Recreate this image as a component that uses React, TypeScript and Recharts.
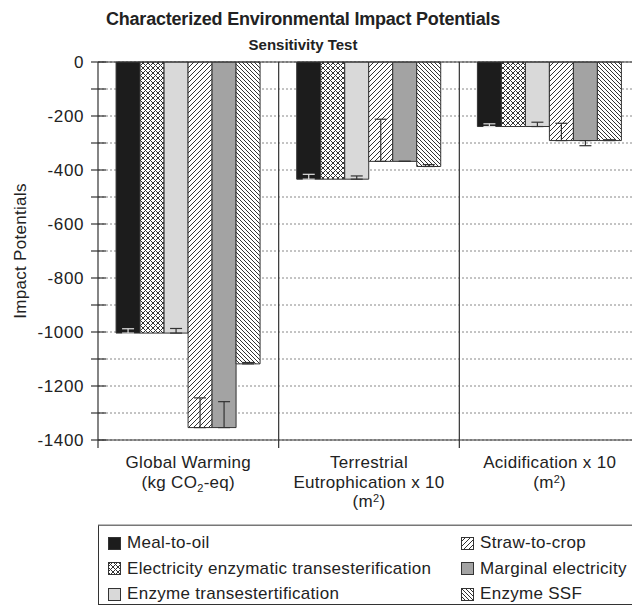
import React from 'react';
import {
  BarChart,
  Bar,
  XAxis,
  YAxis,
  CartesianGrid,
  ReferenceLine,
  ErrorBar,
  Legend,
} from 'recharts';

// ---------- data ----------
const categories = ['Global Warming', 'Terrestrial Eutrophication x 10', 'Acidification x 10'];

type Seg = { t: string; sub?: boolean; sup?: boolean };
const categoryLabelLines: Seg[][][] = [
  [[{ t: 'Global Warming' }], [{ t: '(kg CO' }, { t: '2', sub: true }, { t: '-eq)' }]],
  [[{ t: 'Terrestrial' }], [{ t: 'Eutrophication x 10' }], [{ t: '(m' }, { t: '2', sup: true }, { t: ')' }]],
  [[{ t: 'Acidification x 10' }], [{ t: '(m' }, { t: '2', sup: true }, { t: ')' }]],
];

const seriesNames = [
  'Meal-to-oil',
  'Electricity enzymatic transesterification',
  'Enzyme transestertification',
  'Straw-to-crop',
  'Marginal electricity',
  'Enzyme SSF',
];

const mealToOil = [-1004, -434, -239];
const mealToOilErr = [[0, 16], [0, 18], [0, 10]];
const electricityEnz = [-1004, -434, -239];
const enzymeTrans = [-1004, -434, -239];
const enzymeTransErr = [[0, 17], [0, 12], [0, 16]];
const strawToCrop = [-1354, -368, -291];
const strawToCropErr = [[0, 110], [0, 156], [0, 64]];
const marginalElec = [-1354, -368, -291];
const marginalElecErr = [[0, 96], [0, 0], [19, 0]];
const enzymeSSF = [-1118, -387, -291];
const enzymeSSFErr = [[0, 5], [0, 7], [0, 3]];

const yTicks = [0, -100, -200, -300, -400, -500, -600, -700, -800, -900, -1000, -1100, -1200, -1300, -1400];
const yLabelStep = 200;

const data = categories.map((c, i) => ({
  category: c,
  meal: mealToOil[i],
  mealErr: mealToOilErr[i],
  elec: electricityEnz[i],
  enzT: enzymeTrans[i],
  enzTErr: enzymeTransErr[i],
  straw: strawToCrop[i],
  strawErr: strawToCropErr[i],
  marg: marginalElec[i],
  margErr: marginalElecErr[i],
  ssf: enzymeSSF[i],
  ssfErr: enzymeSSFErr[i],
}));

const series = [
  { key: 'meal', err: 'mealErr', fill: '#1c1c1c', errStroke: '#e0e0e0' },
  { key: 'elec', err: null, fill: 'url(#pat-cross)', errStroke: '#333' },
  { key: 'enzT', err: 'enzTErr', fill: '#d9d9d9', errStroke: '#333' },
  { key: 'straw', err: 'strawErr', fill: 'url(#pat-fwd)', errStroke: '#333' },
  { key: 'marg', err: 'margErr', fill: '#a3a3a3', errStroke: '#333' },
  { key: 'ssf', err: 'ssfErr', fill: 'url(#pat-back)', errStroke: '#333' },
];

const FONT = '"Liberation Sans", Arial, Helvetica, sans-serif';
const TXT = '#222';

const YTick = (props: any) => {
  const { x, y, payload } = props;
  const v = payload.value;
  return (
    <g>
      <line x1={x - 7} x2={x + 8} y1={y} y2={y} stroke="#333" strokeWidth={1.2} />
      {v % yLabelStep === 0 && (
        <text x={x - 14} y={y} dy="0.35em" textAnchor="end" fontSize={17} fill={TXT} fontFamily={FONT} letterSpacing={0.6}>
          {v}
        </text>
      )}
    </g>
  );
};

const XTick = (props: any) => {
  const { x, y, payload } = props;
  const idx = categories.indexOf(payload.value);
  const lines = categoryLabelLines[idx] || [];
  const off = payload.offset;
  return (
    <g>
      {typeof off === 'number' && (
        <line x1={x - off} x2={x - off} y1={y} y2={y + 8} stroke="#333" strokeWidth={1.2} />
      )}
      {lines.map((segs, li) => (
        <text
          key={li}
          x={x}
          y={y + 28 + li * 19.5}
          textAnchor="middle"
          fontSize={17}
          fill={TXT}
          fontFamily={FONT}
          letterSpacing={0.3}
        >
          {segs.map((s, si) => {
            if (s.sub) return <tspan key={si} dy={4} fontSize={11}>{s.t}</tspan>;
            if (s.sup) return <tspan key={si} dy={-5} fontSize={11}>{s.t}</tspan>;
            const prev = segs[si - 1];
            const dy = prev ? (prev.sub ? -4 : prev.sup ? 5 : 0) : 0;
            return <tspan key={si} dy={dy}>{s.t}</tspan>;
          })}
        </text>
      ))}
    </g>
  );
};

const YLabel = (props: any) => {
  const vb = props.viewBox || {};
  const cx = (vb.x || 0) + 12;
  const cy = (vb.y || 0) + (vb.height || 0) / 2;
  return (
    <text
      x={cx}
      y={cy}
      transform={`rotate(-90, ${cx}, ${cy})`}
      textAnchor="middle"
      dy="0.35em"
      fontSize={17}
      fill={TXT}
      fontFamily={FONT}
      letterSpacing={0.3}
    >
      Impact Potentials
    </text>
  );
};

const LegendBox = () => (
  <div
    style={{
      position: 'relative',
      width: 560,
      height: 80,
      border: '1px solid #333',
      borderTopColor: '#777',
      boxShadow: '0 -1px 0 #bbb',
      background: '#fff',
      fontFamily: FONT,
      fontSize: 17,
      color: TXT,
      letterSpacing: 0.3,
      boxSizing: 'border-box',
    }}
  >
    {seriesNames.map((n, i) => {
      const col = Math.floor(i / 3);
      const row = i % 3;
      return (
        <div
          key={n}
          style={{
            position: 'absolute',
            left: col ? 362 : 9,
            top: 5 + row * 25.5,
            height: 24,
            display: 'flex',
            alignItems: 'center',
            whiteSpace: 'nowrap',
          }}
        >
          <svg width={13} height={13} style={{ display: 'block' }}>
            <rect x={0.5} y={0.5} width={12} height={12} fill={series[i].fill} stroke="#333" strokeWidth={1} />
          </svg>
          <span style={{ marginLeft: 6 }}>{n}</span>
        </div>
      );
    })}
  </div>
);

export default function App() {
  return (
    <div style={{ position: 'relative', width: 632, height: 603, overflow: 'hidden', background: '#fff' }}>
      <div
        style={{
          position: 'absolute',
          left: 0,
          top: 0,
          width: 590,
          textAlign: 'center',
          fontFamily: FONT,
          fontWeight: 'bold',
          fontSize: 18,
          color: TXT,
          lineHeight: '22px',
          letterSpacing: -0.2,
          zIndex: 2,
        }}
      >
        Characterized Environmental Impact Potentials
      </div>
      <div
        style={{
          position: 'absolute',
          left: 0,
          top: 27,
          width: 590,
          textAlign: 'center',
          fontFamily: FONT,
          fontWeight: 'bold',
          fontSize: 15,
          color: TXT,
          lineHeight: '20px',
          zIndex: 2,
        }}
      >
        Sensitivity Test
      </div>
      <BarChart
        width={632}
        height={603}
        data={data}
        margin={{ top: 54, right: 0, left: 0, bottom: 91 }}
        barCategoryGap="10%"
        barGap={0}
      >
        <defs>
          <pattern id="pat-cross" patternUnits="userSpaceOnUse" width={5} height={5}>
            <rect width={5} height={5} fill="#fff" />
            <path d="M0,5 L5,0 M-1,1 L1,-1 M4,6 L6,4 M0,0 L5,5 M-1,4 L1,6 M4,-1 L6,1" stroke="#333" strokeWidth={1} />
          </pattern>
          <pattern id="pat-fwd" patternUnits="userSpaceOnUse" width={5} height={5}>
            <rect width={5} height={5} fill="#fff" />
            <path d="M0,5 L5,0 M-1,1 L1,-1 M4,6 L6,4" stroke="#333" strokeWidth={1} />
          </pattern>
          <pattern id="pat-back" patternUnits="userSpaceOnUse" width={4} height={4}>
            <rect width={4} height={4} fill="#fff" />
            <path d="M0,0 L4,4 M-1,3 L1,5 M3,-1 L5,1" stroke="#333" strokeWidth={1} />
          </pattern>
        </defs>
        <CartesianGrid vertical={false} stroke="#888" strokeDasharray="2 2" />
        <XAxis
          dataKey="category"
          interval={0}
          tickLine={false}
          tickSize={0}
          tickMargin={0}
          height={80}
          axisLine={{ stroke: '#333', strokeWidth: 1.2 }}
          tick={(p: any) => <XTick {...p} />}
        />
        <YAxis
          type="number"
          domain={[-1400, 0]}
          ticks={yTicks}
          interval={0}
          width={90}
          tickLine={false}
          tickSize={0}
          tickMargin={0}
          axisLine={{ stroke: '#333', strokeWidth: 1.2 }}
          tick={(p: any) => <YTick {...p} />}
          label={(p: any) => <YLabel {...p} />}
        />
        <ReferenceLine y={0} stroke="#333" strokeWidth={1.2} ifOverflow="visible" />
        <ReferenceLine x={categories[1]} position="start" stroke="#333" strokeWidth={1.2} />
        <ReferenceLine x={categories[2]} position="start" stroke="#333" strokeWidth={1.2} />
        {series.map((s) => (
          <Bar key={s.key} dataKey={s.key} fill={s.fill} stroke="#333" strokeWidth={1} isAnimationActive={false}>
            {s.err && (
              <ErrorBar
                dataKey={s.err}
                width={6}
                stroke={s.errStroke}
                strokeWidth={1.2}
                direction="y"
                isAnimationActive={false}
              />
            )}
          </Bar>
        ))}
        <Legend
          layout="horizontal"
          verticalAlign="middle"
          align="center"
          wrapperStyle={{ top: 517, left: 90, width: 560 }}
          content={() => <LegendBox />}
        />
      </BarChart>
    </div>
  );
}
